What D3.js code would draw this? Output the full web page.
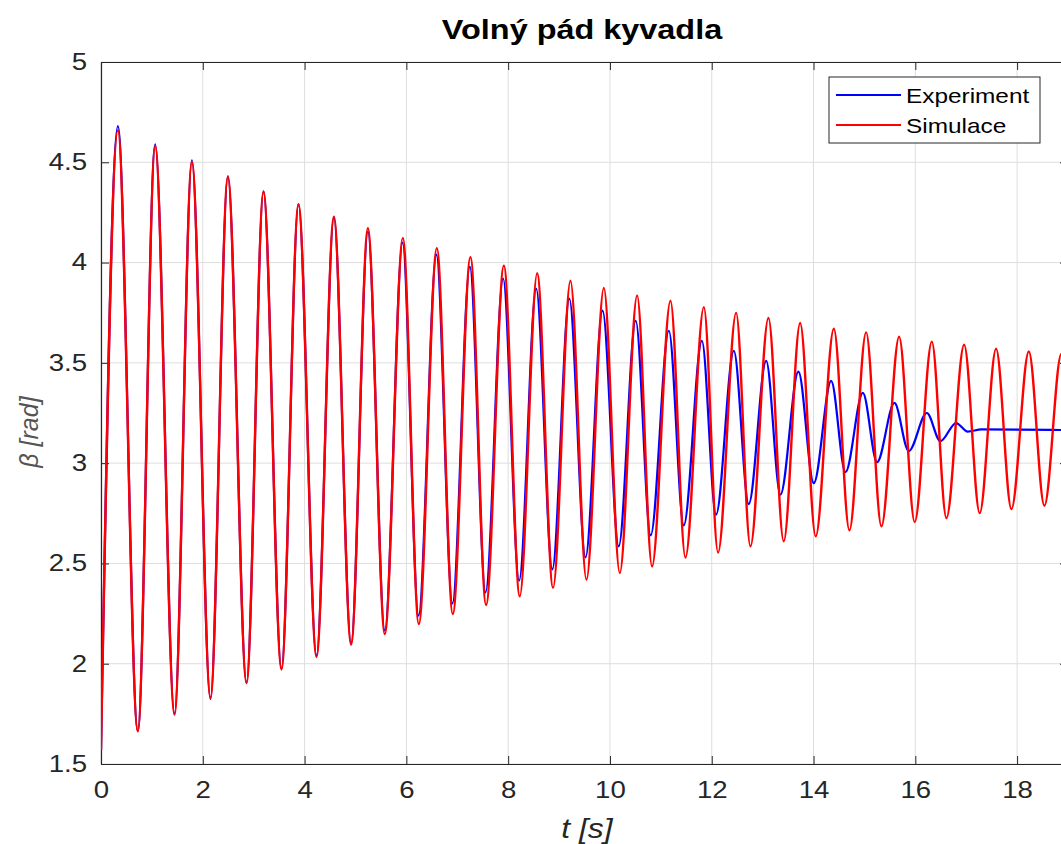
<!DOCTYPE html>
<html>
<head>
<meta charset="utf-8">
<script src="https://cdn.jsdelivr.net/npm/d3@7"></script>
<style>
  body { margin: 0; background: #fff; }
  text { font-family: "Liberation Sans", Arial, sans-serif; }
</style>
</head>
<body>
<div id="vis"></div>
<script>
// extrema (time in s, angle in rad)
var simTime = [0, 0.332, 0.723, 1.065, 1.444, 1.786, 2.151, 2.493, 2.859, 3.193, 3.546, 3.880, 4.234,
  4.576, 4.914, 5.244, 5.576, 5.931, 6.244, 6.599, 6.912, 7.259, 7.566, 7.916, 8.228, 8.570, 8.882,
  9.224, 9.538, 9.880, 10.193, 10.534, 10.827, 11.189, 11.483, 11.845, 12.124, 12.479, 12.760,
  13.114, 13.414, 13.737, 14.043, 14.399, 14.705, 15.033, 15.334, 15.682, 15.988, 16.324, 16.611,
  16.959, 17.265, 17.587, 17.888, 18.230, 18.536, 18.870, 19.2];
var simBeta = [1.57, 4.66, 1.663, 4.581, 1.746, 4.503, 1.830, 4.428, 1.904, 4.353, 1.971, 4.291, 2.034,
  4.229, 2.096, 4.171, 2.148, 4.122, 2.198, 4.072, 2.248, 4.027, 2.293, 3.985, 2.336, 3.947, 2.378,
  3.909, 2.419, 3.873, 2.452, 3.836, 2.485, 3.810, 2.529, 3.778, 2.554, 3.749, 2.585,
  3.724, 2.610, 3.699, 2.635, 3.670, 2.665, 3.652, 2.685, 3.630, 2.706, 3.606, 2.726,
  3.590, 2.751, 3.570, 2.771, 3.557, 2.788, 3.545, 2.80];

var expTime = [0, 0.332, 0.723, 1.065, 1.444, 1.786, 2.151, 2.493, 2.859, 3.193, 3.546, 3.880, 4.234,
  4.576, 4.914, 5.244, 5.576, 5.925, 6.240, 6.590, 6.905, 7.247, 7.556, 7.901, 8.216, 8.551, 8.868,
  9.202, 9.520, 9.855, 10.172, 10.506, 10.800, 11.157, 11.450, 11.806, 12.084, 12.434, 12.727,
  13.069, 13.350, 13.703, 14.004, 14.346, 14.627, 14.969, 15.248, 15.589, 15.870, 16.226, 16.493,
  16.802, 17.03, 17.3, 19];
var expBeta = [1.57, 4.68, 1.665, 4.59, 1.75, 4.51, 1.825, 4.43, 1.905, 4.355, 1.975, 4.29, 2.04,
  4.225, 2.10, 4.155, 2.165, 4.10, 2.24, 4.04, 2.30, 3.98, 2.356, 3.92, 2.414, 3.87, 2.47,
  3.82, 2.53, 3.76, 2.585, 3.71, 2.64, 3.66, 2.69, 3.61, 2.743, 3.56, 2.796,
  3.51, 2.843, 3.456, 2.90, 3.41, 2.955, 3.35, 3.005, 3.30, 3.06, 3.25, 3.11,
  3.20, 3.157, 3.168, 3.165];

var xTicks = [0, 2, 4, 6, 8, 10, 12, 14, 16, 18];
var yTicks = [1.5, 2, 2.5, 3, 3.5, 4, 4.5, 5];
var seriesNames = ['Experiment', 'Simulace'];
var seriesColors = ['#0000ff', '#ff0000'];

var width = 1061, height = 844;
var margin = { top: 62, left: 101, bottom: 80, right: -7 };
var plotW = width - margin.left - margin.right;
var plotH = height - margin.top - margin.bottom;

// the original picture has its text a bit wider than normal
function widen(sel, k) {
  sel.each(function () {
    var len = this.getComputedTextLength();
    d3.select(this).attr('textLength', len * k).attr('lengthAdjust', 'spacingAndGlyphs');
  });
}

var x = d3.scaleLinear().domain([0, 19]).range([0, plotW]);
var y = d3.scaleLinear().domain([1.5, 5]).range([plotH, 0]);

var svg = d3.select('#vis').append('svg')
  .attr('width', width)
  .attr('height', height);

svg.append('text')
  .attr('x', 582)
  .attr('y', 39)
  .attr('text-anchor', 'middle')
  .attr('font-size', 27)
  .attr('font-weight', 'bold')
  .attr('fill', '#000')
  .text('Volný pád kyvadla')
  .call(widen, 1.2);

var g = svg.append('g').attr('transform', 'translate(' + margin.left + ',' + margin.top + ')');

svg.append('defs').append('clipPath').attr('id', 'plotclip')
  .append('rect').attr('width', plotW).attr('height', plotH);

// grid
g.append('g').selectAll('line').data(xTicks).enter().append('line')
  .attr('x1', function (d) { return x(d); }).attr('x2', function (d) { return x(d); })
  .attr('y1', 0).attr('y2', plotH)
  .attr('stroke', '#dedede').attr('stroke-width', 1);
g.append('g').selectAll('line').data(yTicks).enter().append('line')
  .attr('x1', 0).attr('x2', plotW)
  .attr('y1', function (d) { return y(d); }).attr('y2', function (d) { return y(d); })
  .attr('stroke', '#dedede').attr('stroke-width', 1);

// axes with inward ticks
var axisColor = '#262626';
var xAxis = g.append('g').attr('transform', 'translate(0,' + plotH + ')')
  .call(d3.axisBottom(x).tickValues(xTicks).tickSizeInner(-8).tickSizeOuter(0).tickPadding(18).tickFormat(d3.format('d')));
var xAxisTop = g.append('g')
  .call(d3.axisTop(x).tickValues(xTicks).tickSizeInner(-8).tickSizeOuter(0).tickFormat(''));
var yAxis = g.append('g')
  .call(d3.axisLeft(y).tickValues(yTicks).tickSizeInner(-8).tickSizeOuter(0).tickPadding(14).tickFormat(function (d) { return d; }));
var yAxisRight = g.append('g').attr('transform', 'translate(' + plotW + ',0)')
  .call(d3.axisRight(y).tickValues(yTicks).tickSizeInner(-8).tickSizeOuter(0).tickFormat(''));

[xAxis, xAxisTop, yAxis, yAxisRight].forEach(function (a) {
  a.select('.domain').attr('stroke', axisColor).attr('stroke-width', 1.2);
  a.selectAll('.tick line').attr('stroke', axisColor).attr('stroke-width', 1);
  a.selectAll('.tick text').attr('fill', axisColor).attr('font-size', 23)
    .attr('font-family', '"Liberation Sans", Arial, sans-serif');
});
xAxis.selectAll('.tick text').call(widen, 1.2);
yAxis.selectAll('.tick text').call(widen, 1.2);

// curves through the extrema
var line = d3.line()
  .x(function (d) { return x(d[0]); })
  .y(function (d) { return y(d[1]); })
  .curve(d3.curveMonotoneX);

var expData = expTime.map(function (t, i) { return [t, expBeta[i]]; });
var simData = simTime.map(function (t, i) { return [t, simBeta[i]]; });

var lines = g.append('g').attr('clip-path', 'url(#plotclip)');
lines.append('path').datum(expData)
  .attr('d', line).attr('fill', 'none')
  .attr('stroke', seriesColors[0]).attr('stroke-width', 2.2);
lines.append('path').datum(simData)
  .attr('d', line).attr('fill', 'none')
  .attr('stroke', seriesColors[1]).attr('stroke-width', 2.4);

// axis labels
svg.append('text')
  .attr('x', 587).attr('y', 838)
  .attr('text-anchor', 'middle')
  .attr('font-size', 27).attr('font-style', 'italic')
  .attr('fill', axisColor)
  .text('t [s]')
  .call(widen, 1.18);
svg.append('text')
  .attr('transform', 'translate(38,432) rotate(-90)')
  .attr('text-anchor', 'middle')
  .attr('font-size', 25).attr('font-style', 'italic')
  .attr('fill', '#555')
  .text('β [rad]');

// legend
var legend = svg.append('g').attr('transform', 'translate(829,77)');
legend.append('rect')
  .attr('width', 211).attr('height', 66)
  .attr('fill', '#fff').attr('stroke', axisColor).attr('stroke-width', 1);
var items = legend.selectAll('.item').data(seriesNames).enter().append('g')
  .attr('transform', function (d, i) { return 'translate(0,' + (18 + i * 30) + ')'; });
items.append('line')
  .attr('x1', 7).attr('x2', 72).attr('y1', 0).attr('y2', 0)
  .attr('stroke', function (d, i) { return seriesColors[i]; }).attr('stroke-width', 2);
items.append('text')
  .attr('x', 77).attr('y', 8)
  .attr('font-size', 21).attr('fill', '#000')
  .text(function (d) { return d; })
  .call(widen, 1.16);
</script>
</body>
</html>
